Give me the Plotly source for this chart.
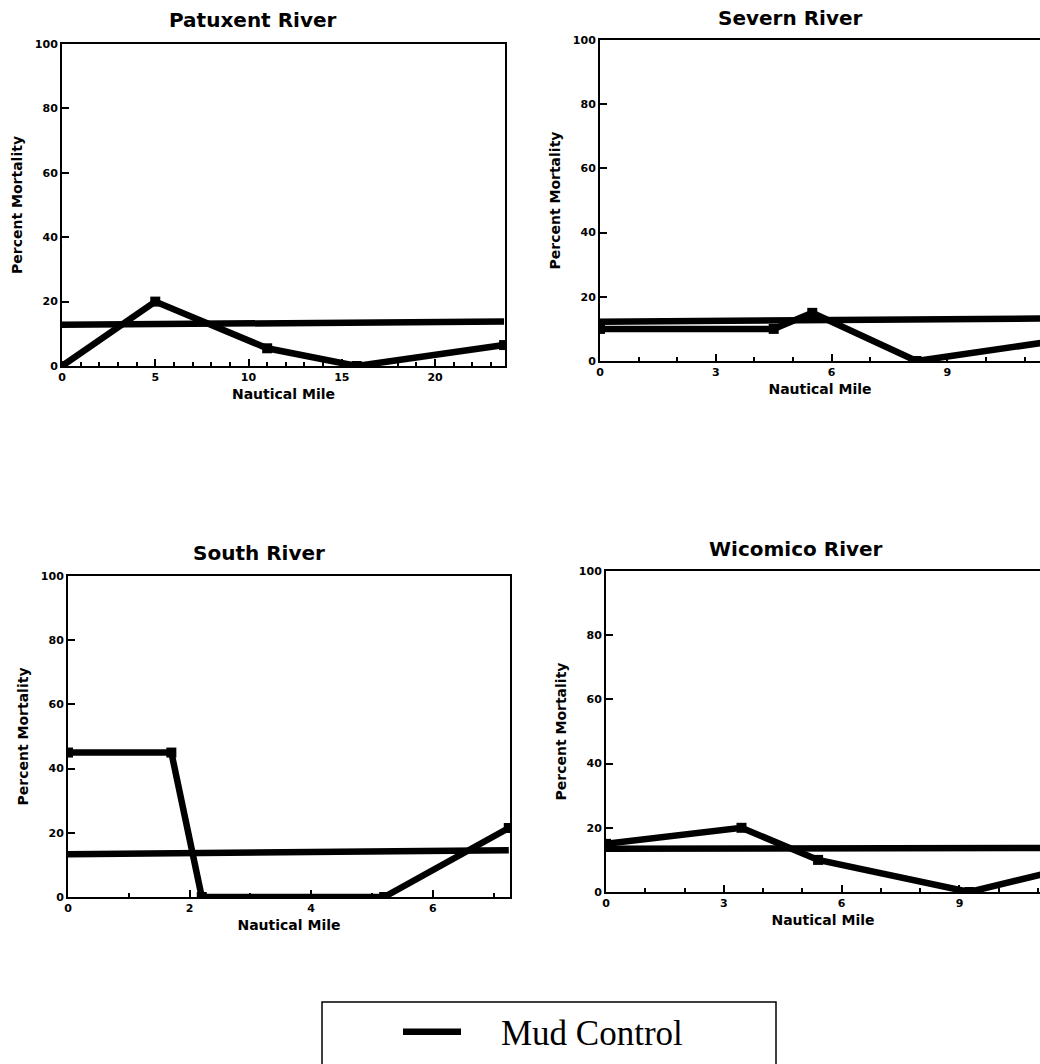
import plotly.graph_objects as go

# ---------------- data ----------------
pat_x = [0, 5, 11.0, 15.8, 23.7]
pat_y = [0, 20, 5.5, 0, 6.5]
pat_ctrl_x = [0, 23.7]
pat_ctrl_y = [12.8, 13.8]

sev_x = [0, 4.5, 5.5, 8.2, 12.0]
sev_y = [10, 10, 15, 0, 6.6]
sev_ctrl_x = [0, 12.0]
sev_ctrl_y = [12.2, 13.3]

sou_x = [0, 1.7, 2.2, 5.2, 7.25]
sou_y = [45, 45, 0, 0, 21.5]
sou_ctrl_x = [0, 7.25]
sou_ctrl_y = [13.3, 14.6]

wic_x = [0, 3.45, 5.4, 9.25, 11.5]
wic_y = [15, 20, 10, 0, 6.7]
wic_ctrl_x = [0, 11.5]
wic_ctrl_y = [13.5, 13.7]

titles = ["Patuxent River", "Severn River", "South River", "Wicomico River"]
legend_label = "Mud Control"
x_title = "Nautical Mile"
y_title = "Percent Mortality"

W, H = 1040, 1064
BOLD = "DejaVu Sans"

fig = go.Figure()

panels = [
    (pat_x, pat_y, pat_ctrl_x, pat_ctrl_y, "x", "y"),
    (sev_x, sev_y, sev_ctrl_x, sev_ctrl_y, "x2", "y2"),
    (sou_x, sou_y, sou_ctrl_x, sou_ctrl_y, "x3", "y3"),
    (wic_x, wic_y, wic_ctrl_x, wic_ctrl_y, "x4", "y4"),
]
for i, (dx, dy, cx, cy, xa, ya) in enumerate(panels):
    fig.add_trace(go.Scatter(
        x=cx, y=cy, mode="lines", xaxis=xa, yaxis=ya,
        line=dict(color="black", width=6.5),
        name="\u2003" + legend_label, showlegend=(i == 0), hoverinfo="skip"))
    fig.add_trace(go.Scatter(
        x=dx, y=dy, mode="lines+markers", xaxis=xa, yaxis=ya,
        line=dict(color="black", width=6.5),
        marker=dict(symbol="square", size=10, color="black"),
        showlegend=False))

def px_dom(a, b, total):
    return [a / total, b / total]

def py_dom(top, bottom):
    return [1 - bottom / H, 1 - top / H]

tickfont = dict(family=BOLD, size=11, color="black", weight="bold")
titlefont = dict(family=BOLD, size=14, color="black", weight="bold")

def xaxis(dom, rng, dtick, anchor, mirror=True):
    return dict(domain=dom, range=rng, anchor=anchor, automargin=False,
                tickmode="linear", tick0=0, dtick=dtick,
                ticks="inside", ticklen=7, tickwidth=2, tickcolor="black",
                minor=dict(ticks="inside", dtick=1, tick0=0, ticklen=4,
                           tickwidth=1.5, tickcolor="black"),
                showline=True, linecolor="black", linewidth=2, mirror=mirror,
                showgrid=False, zeroline=False, tickfont=tickfont,
                title=dict(text=x_title, font=titlefont, standoff=6))

def yaxis(dom, anchor, mirror=True):
    return dict(domain=dom, range=[0, 100], anchor=anchor, automargin=False,
                tickmode="linear", tick0=0, dtick=20,
                ticks="inside", ticklen=7, tickwidth=2, tickcolor="black",
                showline=True, linecolor="black", linewidth=2, mirror=mirror,
                showgrid=False, zeroline=False, tickfont=tickfont,
                title=dict(text=y_title, font=titlefont, standoff=9))

fig.update_layout(
    width=W, height=H,
    margin=dict(l=0, r=0, t=0, b=0, autoexpand=False),
    paper_bgcolor="white", plot_bgcolor="white",
    xaxis=xaxis(px_dom(62, 505, W), [0, 23.75], 5, "y"),
    yaxis=yaxis(py_dom(44, 366), "x"),
    xaxis2=xaxis(px_dom(600, 1040, W), [0, 11.4], 3, "y2"),
    yaxis2=yaxis(py_dom(40, 361), "x2", mirror=False),
    xaxis3=xaxis(px_dom(68, 510, W), [0, 7.27], 2, "y3"),
    yaxis3=yaxis(py_dom(576, 897), "x3"),
    xaxis4=xaxis(px_dom(606, 1040, W), [0, 11.05], 3, "y4"),
    yaxis4=yaxis(py_dom(571, 892), "x4", mirror=False),
    showlegend=True,
    legend=dict(x=398 / W, y=1 - 1032 / H, xanchor="left", yanchor="middle",
                bgcolor="rgba(0,0,0,0)", borderwidth=0, itemwidth=58,
                font=dict(family="Liberation Serif, Times New Roman, serif",
                          size=35, color="black")),
)

title_pos = [(253, 20), (790, 18), (259, 553), (796, 549)]
for t, (tx, ty) in zip(titles, title_pos):
    fig.add_annotation(text=t, x=tx / W, y=1 - ty / H, xref="paper", yref="paper",
                       showarrow=False, xanchor="center", yanchor="middle",
                       font=dict(family=BOLD, size=20, color="black", weight="bold"))

# legend frame
fig.add_shape(type="rect", xref="paper", yref="paper",
              x0=322 / W, x1=776 / W, y0=-0.02, y1=1 - 1002 / H,
              line=dict(color="black", width=1.5), fillcolor="rgba(0,0,0,0)")

fig.write_html("out.html", config={"displayModeBar": False},
               post_script="document.body.style.margin='0px';")
